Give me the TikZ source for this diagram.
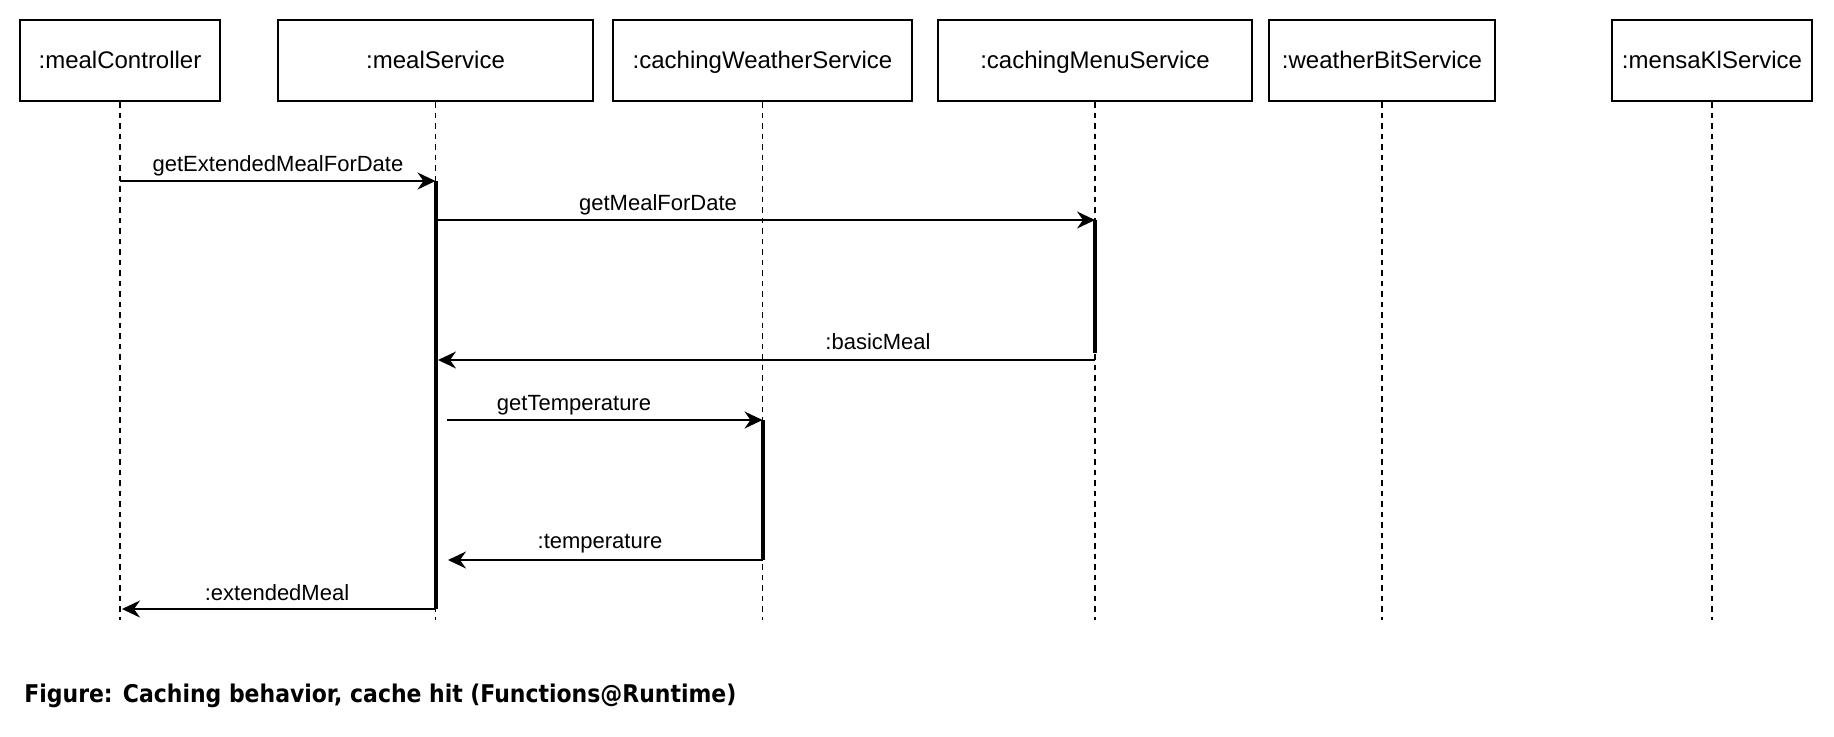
\documentclass[tikz,border=0pt]{standalone}
\usepackage{fontspec}
\setmainfont{Liberation Sans}
\newfontfamily\capfont{DejaVu Sans Condensed Bold}
\usetikzlibrary{arrows.meta,positioning}

\tikzset{
  objbox/.style={draw, line width=1pt, minimum height=40.5pt, inner sep=0pt,
    text height=9.8pt, text depth=1.4pt, font=\fontsize{12}{14}\selectfont},
  lifeline/.style={line width=0.7pt, dash pattern=on 2.75pt off 2.5pt},
  actbar/.style={line width=2pt},
  msg/.style={line width=1pt, -{Stealth[length=9pt,width=8.5pt,inset=3pt]}},
  msglabel/.style={font=\fontsize{11}{13}\selectfont, inner sep=1pt}
}

\begin{document}
\begin{tikzpicture}[x=0.5pt,y=-0.5pt]
    \useasboundingbox (0,0) rectangle (1834,736);
    % heads
    \node[objbox, minimum width=100pt] (ctrl) at (120,60.5) {:mealController};
    \node[objbox, minimum width=157.5pt] (meal) at (435.5,60.5) {:mealService};
    \node[objbox, minimum width=149.5pt] (cweather) at (762.5,60.5) {:cachingWeatherService};
    \node[objbox, minimum width=157pt] (cmenu) at (1095,60.5) {:cachingMenuService};
    \node[objbox, minimum width=113pt] (wbit) at (1382,60.5) {:weatherBitService};
    \node[objbox, minimum width=100pt] (mensa) at (1712,60.5) {:mensaKlService};
    % lifelines
    \foreach \o in {ctrl,meal,cweather,cmenu,wbit,mensa}
        \draw[lifeline] (\o.south) -- (\o |- 0,620);
    % points on the lifelines
    \coordinate (ctrl-call) at (ctrl |- 0,181);
    \coordinate (meal-start) at (meal |- 0,181);
    \coordinate (meal-end) at (meal |- 0,609);
    \coordinate (ctrl-ret) at (122,609);
    \coordinate (meal-out) at (meal |- 0,220);
    \coordinate (menu-start) at (cmenu |- 0,220);
    \coordinate (menu-end) at (cmenu |- 0,353);
    \coordinate (menu-ret) at (cmenu |- 0,360);
    \coordinate (meal-in) at (438,360);
    \coordinate (meal-call) at (447,420);
    \coordinate (weather-start) at (cweather |- 0,420);
    \coordinate (weather-end) at (cweather |- 0,560);
    \coordinate (meal-ret) at (448,560);
    % activations
    \draw[actbar] (meal-start) -- (meal-end);
    \draw[actbar] (menu-start) -- (menu-end);
    \draw[actbar] (weather-start) -- (weather-end);
    % messages
    \draw[msg] (ctrl-call) -- (meal-start);
    \node[msglabel] (lgetext) at (278,165.5) {getExtendedMealForDate};
    \draw[msg] (meal-out) -- (menu-start);
    \node[msglabel] (lgetmeal) at (658,205) {getMealForDate};
    \draw[msg] (menu-ret) -- (meal-in);
    \node[msglabel] (lbasic) at (878,342) {:basicMeal};
    \draw[msg] (meal-call) -- (weather-start);
    \node[msglabel] (lgettemp) at (574,405) {getTemperature};
    \draw[msg] (weather-end) -- (meal-ret);
    \node[msglabel] (ltemp) at (600,544) {:temperature};
    \draw[msg] (meal-end) -- (ctrl-ret);
    \node[msglabel] (lext) at (277,593) {:extendedMeal};
    % caption
    \node[anchor=west, inner sep=0pt, font=\capfont\fontsize{12.2}{14}\selectfont] (caption) at (24,696)
        {Figure: Caching behavior, cache hit (Functions@Runtime)};
\end{tikzpicture}
\end{document}
